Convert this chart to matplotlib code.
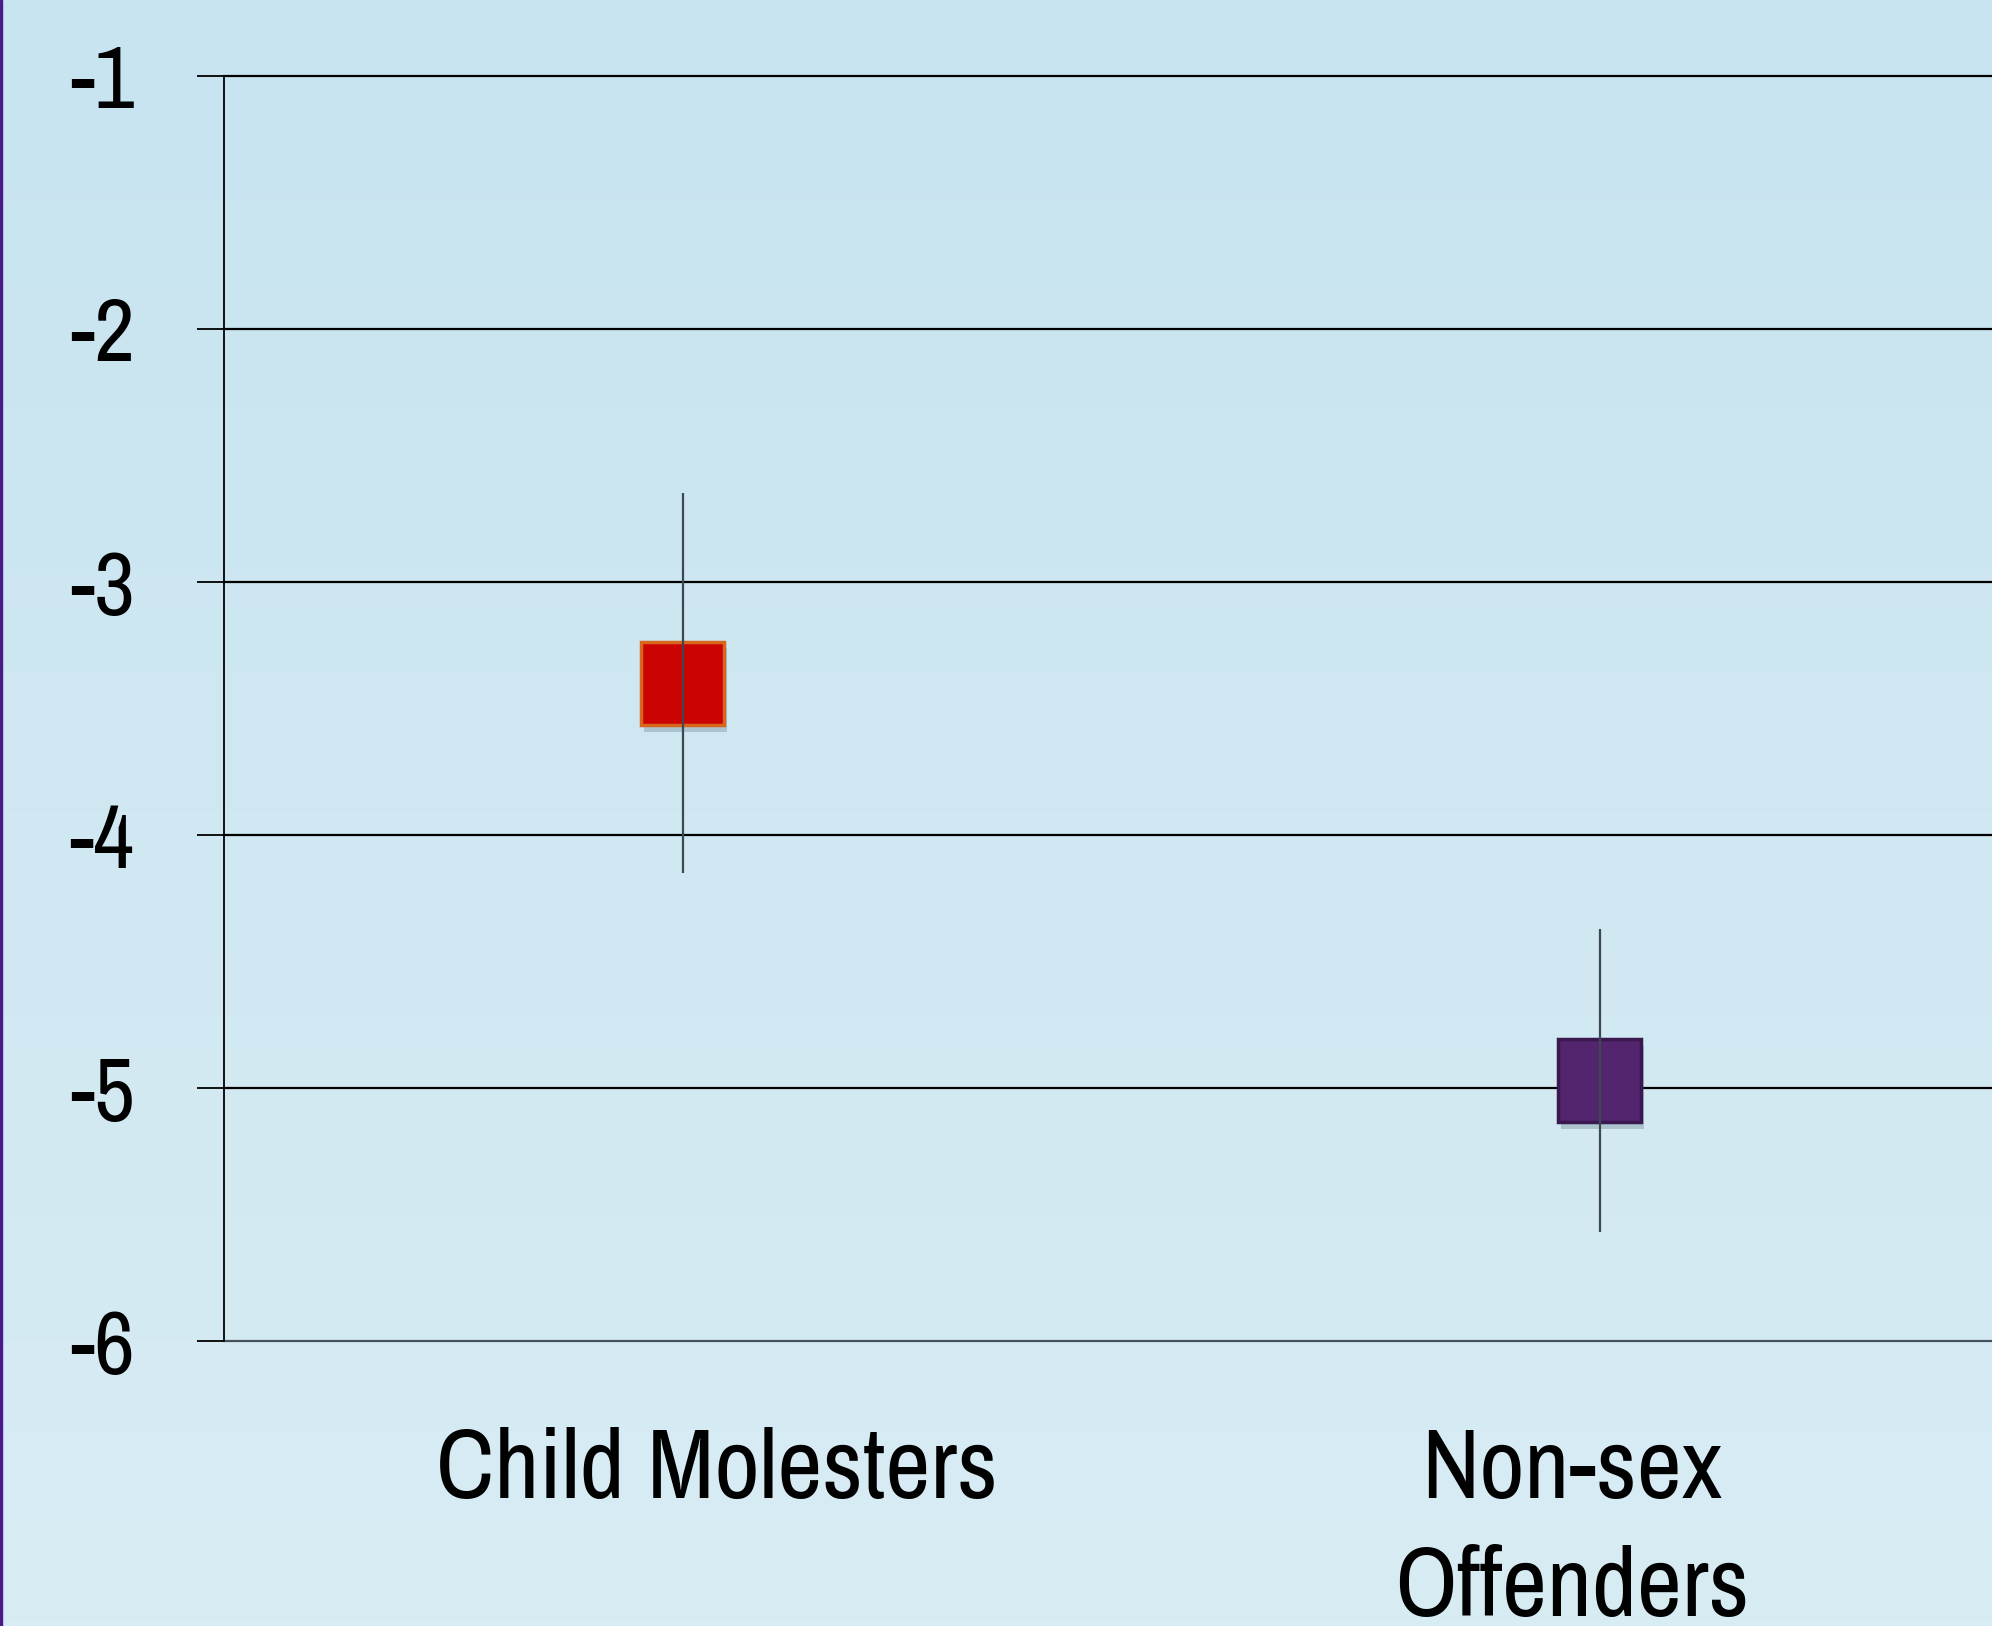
import numpy as np
import matplotlib.pyplot as plt
import matplotlib.transforms as mtransforms
from matplotlib.patches import Rectangle
import matplotlib.patheffects as pe

# data
groups = ["Child Molesters", "Non-sex\nOffenders"]
means = [-3.40, -4.97]
err_hi = [-2.65, -4.37]
err_lo = [-4.15, -5.57]
fills = ["#cc0303", "#54256f"]
edges = ["#d8661c", "#3a1850"]
yticks = [-1, -2, -3, -4, -5, -6]

plt.rcParams['font.family'] = ['Archivo Narrow', 'Roboto Condensed', 'Liberation Sans', 'DejaVu Sans']

fig = plt.figure(figsize=(19.92, 16.26), dpi=100)

# gradient background
bg = fig.add_axes([0, 0, 1, 1], zorder=-10)
grad = np.linspace(0, 1, 256).reshape(-1, 1)
top = np.array([0xc7, 0xe4, 0xf0]) / 255
bot = np.array([0xd8, 0xec, 0xf4]) / 255
img = top[None, None, :] * (1 - grad[:, :, None]) + bot[None, None, :] * grad[:, :, None]
bg.imshow(img, aspect='auto', extent=[0, 1, 0, 1])
bg.set_axis_off()
fig.patches.append(Rectangle((0, 0), 0.0012, 1, transform=fig.transFigure,
                             color="#4a1a8a", zorder=5))

ax = fig.add_axes([224 / 1992, 1 - 1341 / 1626, 1 - 224 / 1992, (1341 - 76) / 1626])
ax.patch.set_alpha(0)
ax.set_xlim(0, 1.928)
ax.set_ylim(-6, -1)

for v in yticks:
    c = "#46525c" if v == -6 else "black"
    ax.axhline(v, color=c, lw=1.6, clip_on=False, zorder=1)

xs = np.arange(len(groups)) + 0.5
for i in range(len(groups)):
    ax.plot(xs[i], means[i], marker='s', ms=60, mfc=fills[i], mec=edges[i], mew=2.5,
            zorder=3, clip_on=False,
            path_effects=[pe.SimplePatchShadow(offset=(2, -5), shadow_rgbFace="#5a7080", alpha=0.3),
                          pe.Normal()])
    ax.vlines(xs[i], err_lo[i], err_hi[i], color="#3d4850", lw=1.6, zorder=4)

for s in ['top', 'right', 'bottom']:
    ax.spines[s].set_visible(False)
ax.spines['left'].set_linewidth(1.3)

ax.set_yticks(yticks)
ax.set_yticklabels([str(v) for v in yticks], fontsize=64)
ax.tick_params(axis='y', length=19.5, width=1.3, pad=45, direction='out')

ax.set_xticks(xs)
ax.set_xticklabels(groups, fontsize=71, linespacing=1.42, va='top')
ax.tick_params(axis='x', length=0, pad=62)
shifts = [34, -28]
for lab, dx in zip(ax.get_xticklabels(), shifts):
    lab.set_transform(lab.get_transform() + mtransforms.ScaledTranslation(dx / 100, 0, fig.dpi_scale_trans))

fig.savefig("out.png", dpi=100)
